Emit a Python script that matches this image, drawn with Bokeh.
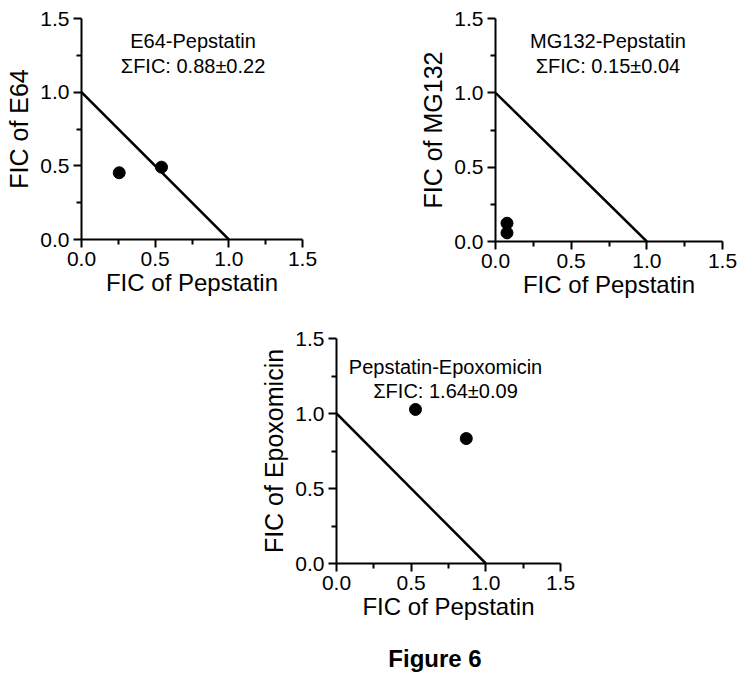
from bokeh.plotting import figure
from bokeh.layouts import column, row
from bokeh.models import Range1d, FixedTicker, PrintfTickFormatter, Div, Spacer
from bokeh.core.properties import value
from bokeh.embed import file_html
from bokeh.resources import INLINE

FONT = "Liberation Sans"

# additivity line (FIC sum = 1)
add_x = [0.0, 1.0]
add_y = [1.0, 0.0]

major_ticks = [0.0, 0.5, 1.0, 1.5]
minor_ticks = [0.25, 0.75, 1.25]

# Panel data
e64_pep_x = [0.256, 0.543]
e64_pep_y = [0.453, 0.491]
mg132_pep_x = [0.076, 0.076]
mg132_pep_y = [0.123, 0.058]
pep_epox_x = [0.529, 0.869]
pep_epox_y = [1.027, 0.833]

titles = ["E64-Pepstatin", "MG132-Pepstatin", "Pepstatin-Epoxomicin"]
sums = ["\u03a3FIC: 0.88\u00b10.22", "\u03a3FIC: 0.15\u00b10.04", "\u03a3FIC: 1.64\u00b10.09"]
ylabels = ["FIC of E64", "FIC of MG132", "FIC of Epoxomicin"]
xlabel = "FIC of Pepstatin"
figure_caption = "Figure 6"

# annotation placement (data units)
ann_x = [0.757, 0.743, 0.730]
ann_y1 = [1.344, 1.347, 1.309]
ann_y2 = [1.179, 1.179, 1.147]


def panel(xs, ys, idx, fw, fh, bl, bt, br, bb):
    p = figure(frame_width=fw, frame_height=fh,
               x_range=Range1d(0, 1.5), y_range=Range1d(0, 1.5),
               output_backend="svg", toolbar_location=None,
               min_border_left=bl, min_border_top=bt,
               min_border_right=br, min_border_bottom=bb)
    p.outline_line_color = None
    p.grid.visible = False
    p.background_fill_color = "white"
    p.border_fill_color = "white"
    for ax in (p.xaxis[0], p.yaxis[0]):
        ax.ticker = FixedTicker(ticks=major_ticks, minor_ticks=minor_ticks)
        ax.formatter = PrintfTickFormatter(format="%.1f")
        ax.axis_line_width = 2
        ax.axis_line_color = "black"
        ax.major_tick_line_width = 2
        ax.major_tick_line_color = "black"
        ax.minor_tick_line_width = 2
        ax.minor_tick_line_color = "black"
        ax.major_tick_in = 0
        ax.major_tick_out = 8
        ax.minor_tick_in = 0
        ax.minor_tick_out = 5
        ax.major_label_text_font = FONT
        ax.major_label_text_font_size = "21px"
        ax.major_label_text_color = "black"
        ax.major_label_standoff = 4
        ax.axis_label_text_font = FONT
        ax.axis_label_text_font_style = "normal"
        ax.axis_label_text_color = "black"
    p.xaxis.axis_label = xlabel
    p.yaxis.axis_label = ylabels[idx]
    p.xaxis.axis_label_text_font_size = "24px"
    p.yaxis.axis_label_text_font_size = "25px"
    p.xaxis.axis_label_standoff = 0
    p.yaxis.axis_label_standoff = 4

    p.line(add_x, add_y, line_color="black", line_width=2.5)
    p.scatter(xs, ys, size=12, color="black")
    p.text(x=[ann_x[idx], ann_x[idx]], y=[ann_y1[idx], ann_y2[idx]],
           text=[titles[idx], sums[idx]], text_align="center",
           text_baseline="alphabetic", text_font=value(FONT),
           text_font_size="20px", text_color="black")
    return p


p1 = panel(e64_pep_x, e64_pep_y, 0, 221, 221, 81, 18, 20, 69)
p2 = panel(mg132_pep_x, mg132_pep_y, 1, 227, 223, 173, 18, 18, 67)
p3 = panel(pep_epox_x, pep_epox_y, 2, 224, 225, 336, 30, 180, 82)

caption = Div(text=figure_caption, width=200, height=34, margin=0,
              styles={"font-family": FONT, "font-weight": "bold",
                      "font-size": "24px", "text-align": "center",
                      "color": "black", "line-height": "normal"})

layout = column(row(p1, p2, spacing=0), p3,
                row(Spacer(width=335, height=34, margin=0), caption, spacing=0),
                spacing=0)

open("out.html", "w").write(file_html(layout, INLINE))
